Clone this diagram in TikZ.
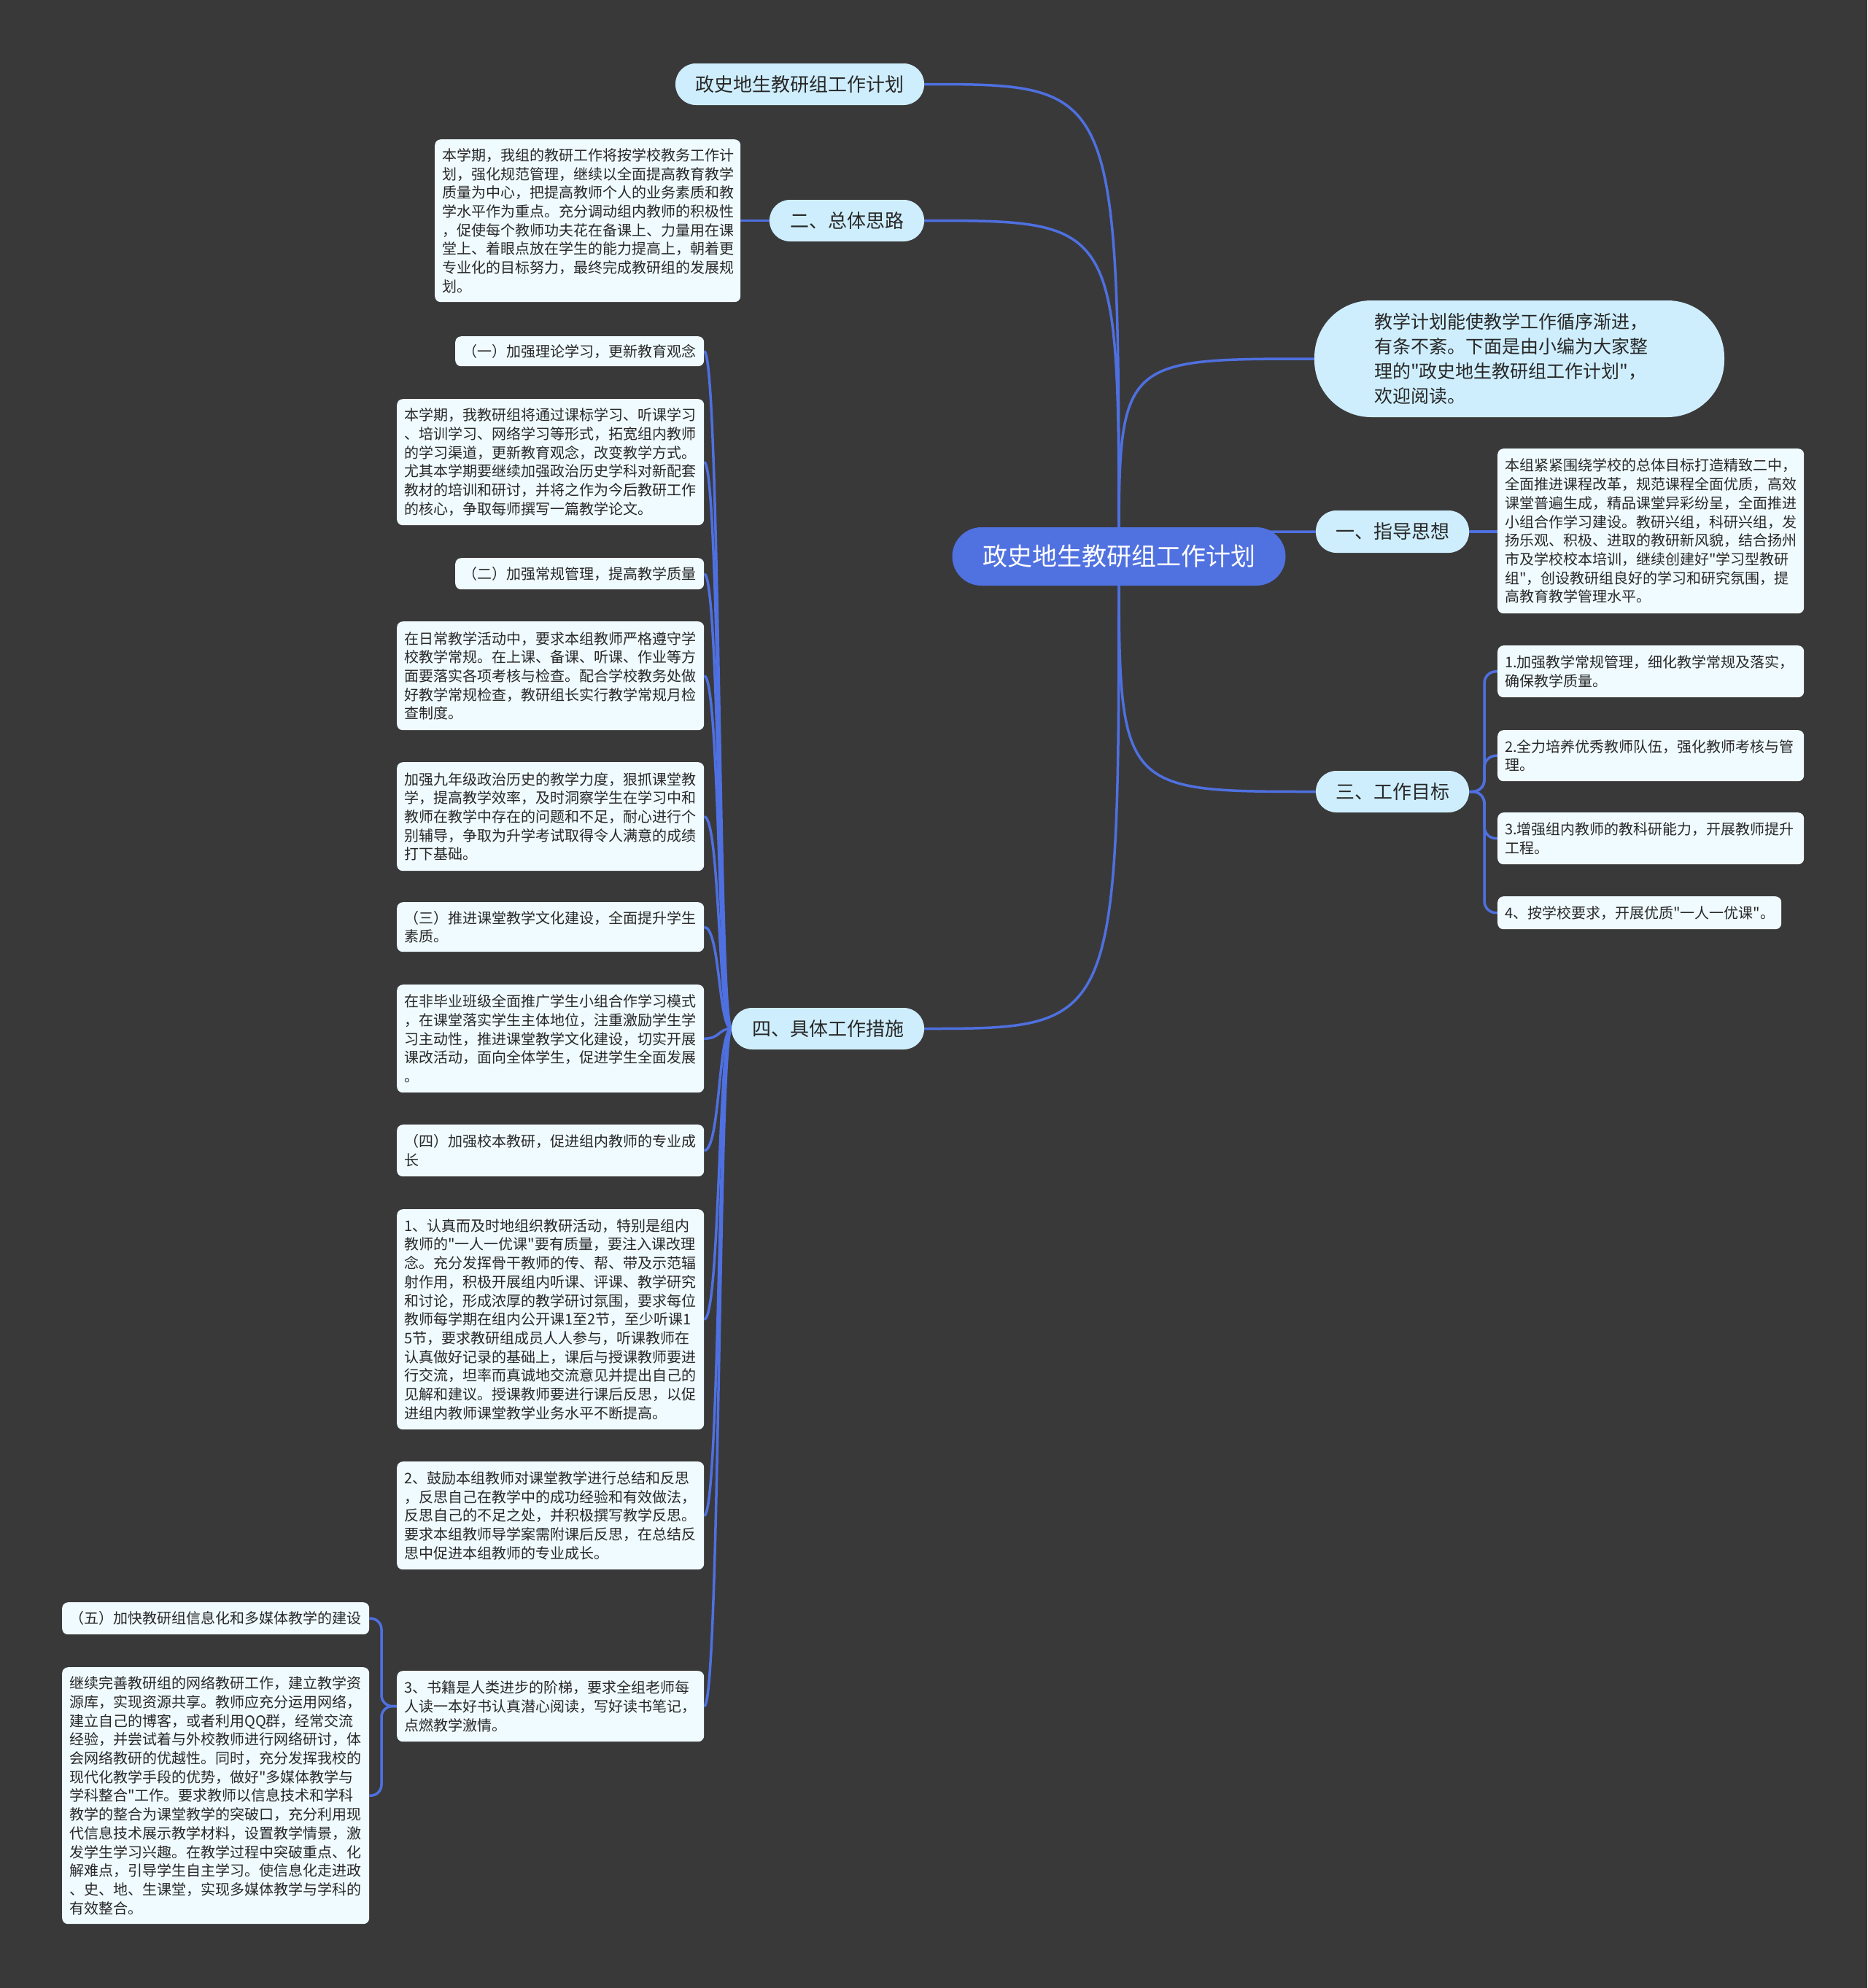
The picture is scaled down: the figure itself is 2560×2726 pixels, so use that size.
\documentclass[tikz,border=0pt]{standalone}
\usepackage{fontspec}
\newfontfamily\cjk{Noto Sans CJK SC}
\usetikzlibrary{calc}
\definecolor{bgc}{RGB}{58,57,58}
\definecolor{linec}{RGB}{78,112,224}
\definecolor{rootc}{RGB}{80,113,224}
\definecolor{brc}{RGB}{206,238,253}
\definecolor{leafc}{RGB}{240,251,255}
\definecolor{textc}{RGB}{40,40,40}
\pgfdeclarelayer{bglayer}
\pgfdeclarelayer{edgelayer}
\pgfsetlayers{bglayer,edgelayer,main}
\tikzset{
  conn/.style={draw=linec, line width=3.5pt},
  rootbox/.style={fill=rootc, rounded corners=40pt, minimum width=457pt, minimum height=80pt, inner sep=0pt, font=\cjk\fontsize{34}{40}\selectfont, text=white},
  branch/.style={fill=brc, rounded corners=28pt, minimum height=57pt, inner sep=0pt, font=\cjk\fontsize{26}{32}\selectfont, text=textc},
  introbox/.style={fill=brc, rounded corners=78pt, minimum width=562pt, minimum height=160pt, inner sep=0pt, text width=398pt, align=left, font=\cjk\fontsize{25}{34}\selectfont, text=textc},
  leaf/.style={fill=leafc, rounded corners=8pt, anchor=north west, align=left, inner xsep=10pt, inner ysep=8pt, font=\cjk\fontsize{20}{25.7}\selectfont, text=textc},
}
\begin{document}
\begin{tikzpicture}[x=1pt,y=-1pt]
\useasboundingbox (0,0) rectangle (2560,2726);
\begin{pgfonlayer}{bglayer}
\fill[bgc] (0,0) rectangle (2560,2726);
\end{pgfonlayer}

% root and branches
\node[rootbox] (root) at (1534,763) {政史地生教研组工作计划};
\node[branch, minimum width=341pt] (top) at (1096.5,115.5) {政史地生教研组工作计划};
\node[branch, minimum width=212pt] (b2) at (1161,302.5) {二、总体思路};
\node[introbox] (intro) at (2083,492) {教学计划能使教学工作循序渐进，\\有条不紊。下面是由小编为大家整\\理的"政史地生教研组工作计划"，\\欢迎阅读。};
\node[branch, minimum width=210pt, minimum height=58pt] (b1) at (1909,729) {一、指导思想};
\node[branch, minimum width=210pt] (b3) at (1909,1085.5) {三、工作目标};
\node[branch, minimum width=264pt] (b4) at (1135,1410.5) {四、具体工作措施};

% leaves of 二 and 一
\node[leaf, text width=399pt, minimum height=223pt] (t2) at (596,191) {本学期，我组的教研工作将按学校教务工作计\\划，强化规范管理，继续以全面提高教育教学\\质量为中心，把提高教师个人的业务素质和教\\学水平作为重点。充分调动组内教师的积极性\\，促使每个教师功夫花在备课上、力量用在课\\堂上、着眼点放在学生的能力提高上，朝着更\\专业化的目标努力，最终完成教研组的发展规\\划。};
\node[leaf, text width=400pt, minimum height=226pt] (t1) at (2053,615) {本组紧紧围绕学校的总体目标打造精致二中，\\全面推进课程改革，规范课程全面优质，高效\\课堂普遍生成，精品课堂异彩纷呈，全面推进\\小组合作学习建设。教研兴组，科研兴组，发\\扬乐观、积极、进取的教研新风貌，结合扬州\\市及学校校本培训，继续创建好"学习型教研\\组"，创设教研组良好的学习和研究氛围，提\\高教育教学管理水平。};

% goals
\node[leaf, text width=400pt, minimum height=71pt] (g1) at (2053,885) {1.加强教学常规管理，细化教学常规及落实，\\确保教学质量。};
\node[leaf, text width=400pt, minimum height=70pt] (g2) at (2053,1001) {2.全力培养优秀教师队伍，强化教师考核与管\\理。};
\node[leaf, text width=400pt, minimum height=71pt] (g3) at (2053,1114) {3.增强组内教师的教科研能力，开展教师提升\\工程。};
\node[leaf, text width=369pt, minimum height=45pt] (g4) at (2053,1229) {4、按学校要求，开展优质"一人一优课"。};

% measures
\node[leaf, text width=321pt, minimum height=41pt] (l1) at (624,461) {（一）加强理论学习，更新教育观念};
\node[leaf, text width=401pt, minimum height=173pt] (lt1) at (544,547) {本学期，我教研组将通过课标学习、听课学习\\、培训学习、网络学习等形式，拓宽组内教师\\的学习渠道，更新教育观念，改变教学方式。\\尤其本学期要继续加强政治历史学科对新配套\\教材的培训和研讨，并将之作为今后教研工作\\的核心，争取每师撰写一篇教学论文。};
\node[leaf, text width=321pt, minimum height=43pt] (l2) at (624,765) {（二）加强常规管理，提高教学质量};
\node[leaf, text width=401pt, minimum height=149pt] (lt2) at (544,852) {在日常教学活动中，要求本组教师严格遵守学\\校教学常规。在上课、备课、听课、作业等方\\面要落实各项考核与检查。配合学校教务处做\\好教学常规检查，教研组长实行教学常规月检\\查制度。};
\node[leaf, text width=401pt, minimum height=149pt] (lt3) at (544,1045) {加强九年级政治历史的教学力度，狠抓课堂教\\学，提高教学效率，及时洞察学生在学习中和\\教师在教学中存在的问题和不足，耐心进行个\\别辅导，争取为升学考试取得令人满意的成绩\\打下基础。};
\node[leaf, text width=401pt, minimum height=68pt] (l3) at (544,1237) {（三）推进课堂教学文化建设，全面提升学生\\素质。};
\node[leaf, text width=401pt, minimum height=148pt] (lt4) at (544,1350) {在非毕业班级全面推广学生小组合作学习模式\\，在课堂落实学生主体地位，注重激励学生学\\习主动性，推进课堂教学文化建设，切实开展\\课改活动，面向全体学生，促进学生全面发展\\。};
\node[leaf, text width=401pt, minimum height=71pt] (l4) at (544,1542) {（四）加强校本教研，促进组内教师的专业成\\长};
\node[leaf, text width=401pt, minimum height=302pt] (li1) at (544,1658) {1、认真而及时地组织教研活动，特别是组内\\教师的"一人一优课"要有质量，要注入课改理\\念。充分发挥骨干教师的传、帮、带及示范辐\\射作用，积极开展组内听课、评课、教学研究\\和讨论，形成浓厚的教学研讨氛围，要求每位\\教师每学期在组内公开课1至2节，至少听课1\\5节，要求教研组成员人人参与，听课教师在\\认真做好记录的基础上，课后与授课教师要进\\行交流，坦率而真诚地交流意见并提出自己的\\见解和建议。授课教师要进行课后反思，以促\\进组内教师课堂教学业务水平不断提高。};
\node[leaf, text width=401pt, minimum height=148pt] (li2) at (544,2004) {2、鼓励本组教师对课堂教学进行总结和反思\\，反思自己在教学中的成功经验和有效做法，\\反思自己的不足之处，并积极撰写教学反思。\\要求本组教师导学案需附课后反思，在总结反\\思中促进本组教师的专业成长。};
\node[leaf, text width=401pt, minimum height=97pt] (li3) at (544,2291) {3、书籍是人类进步的阶梯，要求全组老师每\\人读一本好书认真潜心阅读，写好读书笔记，\\点燃教学激情。};
\node[leaf, text width=401pt, minimum height=44pt] (l5) at (85,2197) {（五）加快教研组信息化和多媒体教学的建设};
\node[leaf, text width=401pt, minimum height=352pt] (lt5) at (85,2286) {继续完善教研组的网络教研工作，建立教学资\\源库，实现资源共享。教师应充分运用网络，\\建立自己的博客，或者利用QQ群，经常交流\\经验，并尝试着与外校教师进行网络研讨，体\\会网络教研的优越性。同时，充分发挥我校的\\现代化教学手段的优势，做好"多媒体教学与\\学科整合"工作。要求教师以信息技术和学科\\教学的整合为课堂教学的突破口，充分利用现\\代信息技术展示教学材料，设置教学情景，激\\发学生学习兴趣。在教学过程中突破重点、化\\解难点，引导学生自主学习。使信息化走进政\\、史、地、生课堂，实现多媒体教学与学科的\\有效整合。};

\coordinate (s3) at (2035,1085.5);
\coordinate (s5) at (523,2339.5);

\begin{pgfonlayer}{edgelayer}
% root to branches
\foreach \n/\a in {top/east, b2/east, b4/east, intro/west, b1/west, b3/west}
  \draw[conn] (root.center) .. controls (root.center |- \n.\a) .. (\n.\a);
% simple links
\draw[conn] (b2.west) -- (b2.west -| t2.east);
\draw[conn] (b1.east) -- (b1.east -| t1.west);
% goals bracket
\foreach \g in {g1,g2,g3,g4}
  \draw[conn, rounded corners=16pt] (b3.east) -- (s3) |- (\g.west);
% measures
\foreach \c in {l1,lt1,l2,lt2,lt3,l3,lt4,l4,li1,li2,li3}
  \draw[conn] (b4.west) .. controls +(-18,0) and +(22,0) .. (\c.east);
% sub bracket of item 3
\foreach \c in {l5,lt5}
  \draw[conn, rounded corners=15pt] (li3.west) -- (s5) |- (\c.east);
\end{pgfonlayer}
\end{tikzpicture}
\end{document}
